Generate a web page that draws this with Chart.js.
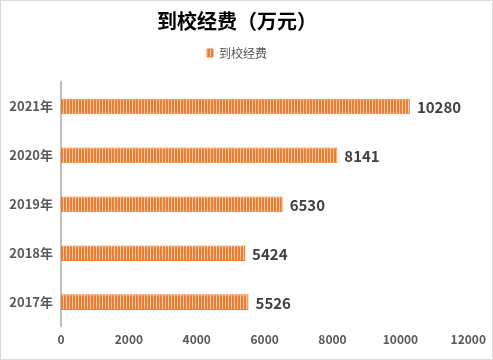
<!DOCTYPE html>
<html><head><meta charset="utf-8">
<script src="https://cdn.jsdelivr.net/npm/chart.js@4/dist/chart.umd.min.js"></script>
<style>
html,body{margin:0;padding:0;background:#fff;}
#wrap{position:relative;width:493px;height:360px;box-sizing:border-box;border:1px solid #d9d9d9;}
canvas{display:block;}
</style></head><body>
<div id="wrap"><canvas id="c" width="491" height="358"></canvas></div>
<script>
const categories = ['2021年','2020年','2019年','2018年','2017年'];
const values = [10280, 8141, 6530, 5424, 5526];
const seriesName = '到校经费';
const titleText = '到校经费（万元）';
const xTicks = [0,2000,4000,6000,8000,10000,12000];

const FONT = '"Noto Sans CJK SC", "Liberation Sans", sans-serif';
const pc = document.createElement('canvas');
pc.width = 3; pc.height = 4;
const pctx = pc.getContext('2d');
pctx.fillStyle = '#ED7D31'; pctx.fillRect(0,0,3,4);
pctx.fillStyle = '#F9C9A6'; pctx.fillRect(2,0,1,4);
const ctx0 = document.getElementById('c').getContext('2d');
const pattern = ctx0.createPattern(pc, 'repeat');

const labelPlugin = {
  id: 'valLabels',
  beforeLayout(chart){
    const lg = chart.legend;
    if (lg && !lg._patched){
      const orig = lg.fit;
      lg.fit = function(){ orig.call(this); this.height += 13; };
      lg._patched = true;
    }
  },
  afterDatasetsDraw(chart){
    const ctx = chart.ctx;
    const meta = chart.getDatasetMeta(0);
    ctx.save();
    ctx.font = 'bold 15px ' + FONT;
    ctx.fillStyle = '#404040';
    ctx.textAlign = 'left';
    ctx.textBaseline = 'middle';
    meta.data.forEach((el,i)=>{
      ctx.fillText(String(values[i]), el.x + 7, el.y + 1);
    });
    ctx.restore();
  }
};

new Chart(ctx0, {
  type: 'bar',
  data: {
    labels: categories,
    datasets: [{
      label: seriesName,
      data: values,
      backgroundColor: pattern,
      borderColor: '#ED7D31',
      borderWidth: 1,
      barPercentage: 0.64,
      categoryPercentage: 0.5
    }]
  },
  options: {
    indexAxis: 'y',
    responsive: false,
    animation: false,
    devicePixelRatio: 1,
    layout: { padding: { left: 0, right: 19, top: 6, bottom: 6 } },
    plugins: {
      title: {
        display: true, text: titleText, color: '#000',
        font: { family: FONT, size: 20, weight: 'bold' },
        padding: { top: 2, bottom: 6 }
      },
      legend: {
        display: true,
        labels: {
          boxWidth: 6, boxHeight: 8, color: '#595959',
          font: { family: FONT, size: 12 }, padding: 8
        }
      },
      tooltip: { enabled: false }
    },
    scales: {
      x: {
        min: 0, max: 12000,
        afterBuildTicks(scale){ scale.ticks = xTicks.map(v=>({value:v})); },
        grid: { display: false, drawTicks: false },
        border: { display: false },
        ticks: { color: '#595959', font: { family: FONT, size: 12, weight: 'bold' }, padding: 6, maxRotation: 0,
                 callback: (v)=>String(v) }
      },
      y: {
        grid: { display: false, drawTicks: false },
        border: { display: true, color: '#BFBFBF', width: 2 },
        ticks: { color: '#595959', font: { family: FONT, size: 13, weight: 'bold' }, padding: 8 },
        afterFit(scale){ scale.width = 60; }
      }
    }
  },
  plugins: [labelPlugin]
});
</script>
</body></html>
